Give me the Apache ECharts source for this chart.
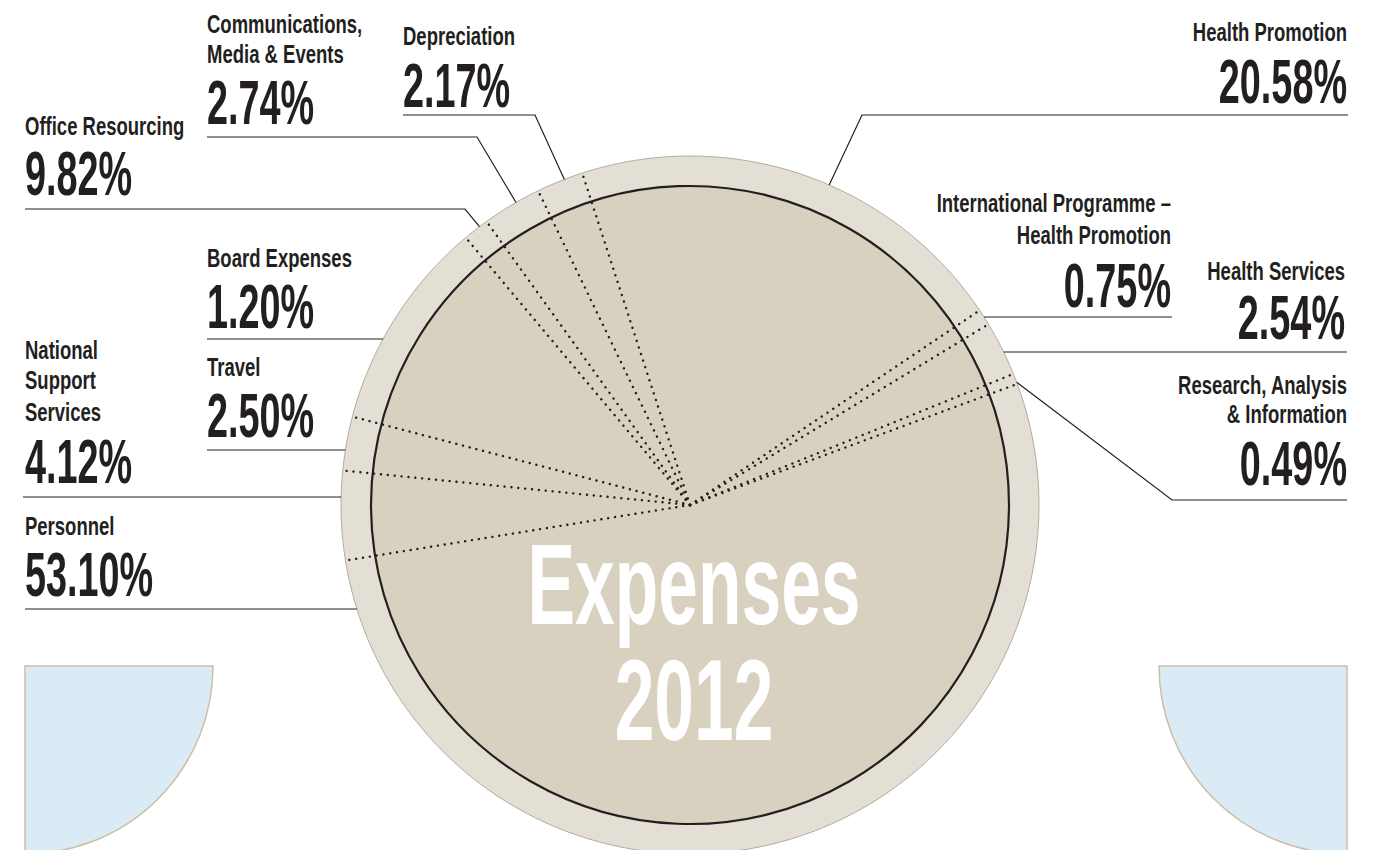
<!DOCTYPE html>
<html>
<head>
<meta charset="utf-8">
<script src="https://cdn.jsdelivr.net/npm/echarts@6/dist/echarts.min.js"></script>
<style>
html,body{margin:0;padding:0;background:#fff;}
#c{width:1381px;height:850px;}
</style>
</head>
<body>
<div id="c"></div>
<script>
// ---------------- DATA ----------------
const categories = [
  'Personnel',
  'National Support Services',
  'Travel',
  'Office Resourcing',
  'Board Expenses',
  'Communications, Media & Events',
  'Depreciation',
  'Health Promotion',
  'International Programme – Health Promotion',
  'Health Services',
  'Research, Analysis & Information'
];
const shares = [53.10, 4.12, 2.50, 9.82, 1.20, 2.74, 2.17, 20.58, 0.75, 2.54, 0.49];
const labelNameLines = [
  ['Personnel'],
  ['National', 'Support', 'Services'],
  ['Travel'],
  ['Office Resourcing'],
  ['Board Expenses'],
  ['Communications,', 'Media & Events'],
  ['Depreciation'],
  ['Health Promotion'],
  ['International Programme –', 'Health Promotion'],
  ['Health Services'],
  ['Research, Analysis', '& Information']
];
const titleLines = ['Expenses', '2012'];

// ---------------- LAYOUT / STYLE ----------------
const CX = 690, CY = 505, R_IN = 319, R_OUT = 349;
const START_ANGLE = 20.3;
const FONT = "'Liberation Sans', Arial, sans-serif";
const INK = '#231f20';
const INNER = '#d9d1c0', RING = '#e4dfd4';
// label placement: anchor x, align, name line centre y's, value centre y, underline y, underline far end x, elbow x, ring angle
const labelPos = [
  {ax: 25,   align: 'left',  names: [526],          value: 574.5, uy: 609, u0: 25},
  {ax: 25,   align: 'left',  names: [350, 380.5, 412], value: 461.5, uy: 497, u0: 23},
  {ax: 207,  align: 'left',  names: [367],          value: 415.5, uy: 450, u0: 207},
  {ax: 25,   align: 'left',  names: [126.5],        value: 173.5, uy: 209, u0: 25,   ex: 465,  deg: 127.1},
  {ax: 207,  align: 'left',  names: [258.5],        value: 306,   uy: 339, u0: 207},
  {ax: 207,  align: 'left',  names: [24.5, 54],     value: 102.5, uy: 137, u0: 207,  ex: 477,  deg: 119.9},
  {ax: 403,  align: 'left',  names: [36],           value: 85,    uy: 115, u0: 403,  ex: 535,  deg: 111.1},
  {ax: 1347, align: 'right', names: [32.5],         value: 81.5,  uy: 115, u0: 1348, ex: 862,  deg: 66.5},
  {ax: 1171, align: 'right', names: [203.5, 235],   value: 285,   uy: 317, u0: 1172},
  {ax: 1345, align: 'right', names: [271.5],        value: 317.5, uy: 352, u0: 1347},
  {ax: 1347, align: 'right', names: [385, 414.5],   value: 463.5, uy: 500, u0: 1347, ex: 1172, deg: 20.6}
];

const chart = echarts.init(document.getElementById('c'), null, {renderer: 'svg'});

const option = {
  animation: false,
  backgroundColor: '#ffffff',
  series: [{
    type: 'pie',
    center: [CX, CY],
    radius: [0, R_IN],
    startAngle: START_ANGLE,
    clockwise: true,
    silent: true,
    z: 2,
    label: {show: false},
    labelLine: {show: false},
    itemStyle: {color: INNER, borderWidth: 0},
    emphasis: {disabled: true},
    data: categories.map((n, i) => ({name: n, value: shares[i]}))
  }]
};
chart.setOption(option);

// slice boundary angles from the library's pie layout
let bounds = [];
try {
  const data = chart.getModel().getSeriesByIndex(0).getData();
  for (let i = 0; i < data.count(); i++) {
    bounds.push(data.getItemLayout(i).startAngle);
  }
} catch (e) {
  bounds = [];
}
if (!bounds.length) {
  const total = shares.reduce((a, b) => a + b, 0);
  let a = -START_ANGLE * Math.PI / 180;
  shares.forEach(v => { bounds.push(a); a += v / total * Math.PI * 2; });
}

const g = [];
// outer ring
g.push({type: 'circle', z: 0, silent: true, shape: {cx: CX, cy: CY, r: R_OUT},
  style: {fill: RING, stroke: '#a39b8b', lineWidth: 0.8}});
// decorative light-blue quarter discs
const blueStyle = {fill: '#daebf5', stroke: '#cbbfa6', lineWidth: 1.5};
g.push({type: 'sector', z: 0, silent: true, shape: {cx: 25, cy: 666, r0: 0, r: 188, startAngle: 0, endAngle: Math.PI / 2, clockwise: true}, style: blueStyle});
g.push({type: 'sector', z: 0, silent: true, shape: {cx: 1347, cy: 666, r0: 0, r: 188, startAngle: Math.PI / 2, endAngle: Math.PI, clockwise: true}, style: blueStyle});

// dotted slice separators
bounds.forEach(a => {
  g.push({type: 'line', z: 5, silent: true,
    shape: {x1: CX, y1: CY, x2: CX + R_OUT * Math.cos(a), y2: CY + R_OUT * Math.sin(a)},
    style: {stroke: INK, lineWidth: 2.4, lineDash: [0.1, 6.8], lineCap: 'round'}});
});
// inner outline
g.push({type: 'circle', z: 6, silent: true, shape: {cx: CX, cy: CY, r: R_IN},
  style: {fill: 'none', stroke: INK, lineWidth: 2.2}});

// centre title
const titleY = [584, 700];
titleLines.forEach((t, i) => {
  g.push({type: 'text', z: 7, silent: true, x: 694, y: titleY[i], scaleX: 0.62,
    style: {text: t, x: 0, y: 0, fill: '#ffffff', fontSize: 115, fontWeight: 'bold', fontFamily: FONT,
      align: 'center', textAlign: 'center', verticalAlign: 'middle', textVerticalAlign: 'middle'}});
});

// labels
labelPos.forEach((p, i) => {
  labelNameLines[i].forEach((line, j) => {
    g.push({type: 'text', z: 8, silent: true, x: p.ax, y: p.names[j], scaleX: 0.74,
      style: {text: line, x: 0, y: 0, fill: INK, fontSize: 25, fontWeight: 'bold', fontFamily: FONT,
        align: p.align, textAlign: p.align, verticalAlign: 'middle', textVerticalAlign: 'middle'}});
  });
  g.push({type: 'text', z: 8, silent: true, x: p.ax, y: p.value, scaleX: 0.6,
    style: {text: shares[i].toFixed(2) + '%', x: 0, y: 0, fill: INK, fontSize: 63, fontWeight: 'bold', fontFamily: FONT,
      align: p.align, textAlign: p.align, verticalAlign: 'middle', textVerticalAlign: 'middle'}});
  let rx, ry, ex;
  if (p.deg != null) {
    const r = p.deg * Math.PI / 180;
    rx = CX + R_OUT * Math.cos(r);
    ry = CY - R_OUT * Math.sin(r);
    ex = p.ex;
  } else {
    const side = p.align === 'left' ? -1 : 1;
    ry = p.uy;
    rx = CX + side * Math.sqrt(R_OUT * R_OUT - (p.uy - CY) * (p.uy - CY));
    ex = rx;
  }
  g.push({type: 'polyline', z: 8, silent: true,
    shape: {points: [[p.u0, p.uy], [ex, p.uy], [rx, ry]]},
    style: {stroke: INK, lineWidth: 1.2, fill: 'none'}});
});

chart.setOption({graphic: {elements: g}});
</script>
</body>
</html>
